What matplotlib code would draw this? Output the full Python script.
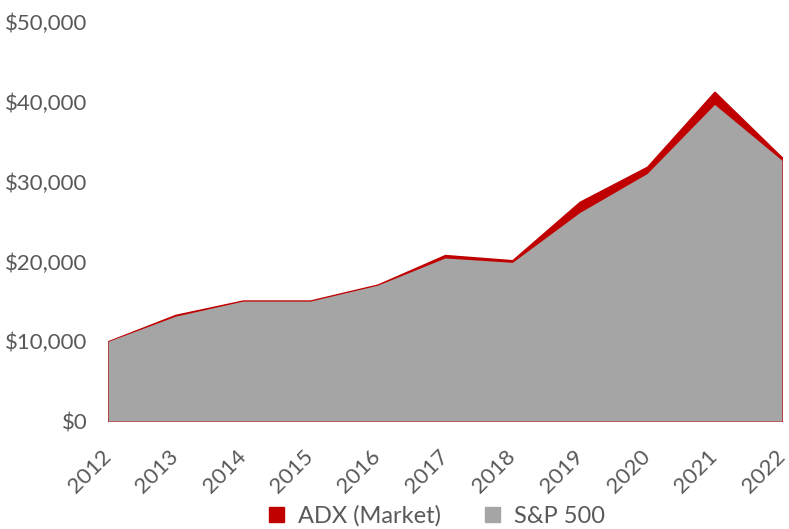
import matplotlib
matplotlib.use("Agg")
import matplotlib.pyplot as plt
from matplotlib.ticker import FuncFormatter
from matplotlib.patches import Patch
import matplotlib.transforms as mtransforms

years = [2012, 2013, 2014, 2015, 2016, 2017, 2018, 2019, 2020, 2021, 2022]
adx = [10000, 13300, 15100, 15100, 17100, 20800, 20150, 27480, 31870, 41270, 33040]
sp500 = [10000, 13150, 15040, 15040, 17040, 20450, 19900, 26150, 31040, 39700, 32700]

plt.rcParams['font.family'] = ['Lato', 'DejaVu Sans']
txt = '#595959'

fig = plt.figure(figsize=(7.89, 5.29), dpi=100)
ax = fig.add_axes([0.137, 0.204, 0.854, 0.754])

x = list(range(len(years)))
ax.fill_between(x, 0, adx, color='#C00000', linewidth=1.2, edgecolor='#C00000', zorder=2)
ax.fill_between(x, 0, sp500, color='#A5A5A5', linewidth=0, zorder=3)

ax.set_xlim(0, len(years) - 1)
ax.set_ylim(0, 50000)
ax.set_yticks(range(0, 50001, 10000))
ax.yaxis.set_major_formatter(FuncFormatter(lambda v, p: f"${int(v):,}"))
ax.set_xticks(x)
ax.set_xticklabels([str(y) for y in years], rotation=45, ha='right', va='top')
for s in ax.spines.values():
    s.set_visible(False)
ax.tick_params(axis='both', length=0, labelsize=16, colors=txt)
ax.tick_params(axis='y', pad=15)
ax.tick_params(axis='x', pad=18)
offset = mtransforms.ScaledTranslation(7 / 100, 0, fig.dpi_scale_trans)
for lab in ax.get_xticklabels():
    lab.set_transform(lab.get_transform() + offset)

handles = [Patch(color='#C00000', label='ADX (Market)'), Patch(color='#A5A5A5', label='S&P 500')]
fig.legend(handles=handles, loc='lower center', bbox_to_anchor=(0.554, -0.036), ncol=2,
           frameon=False, fontsize=17, handlelength=0.64, handleheight=0.64,
           columnspacing=1.86, handletextpad=0.6, labelcolor=txt)

fig.savefig('out.png', dpi=100)
